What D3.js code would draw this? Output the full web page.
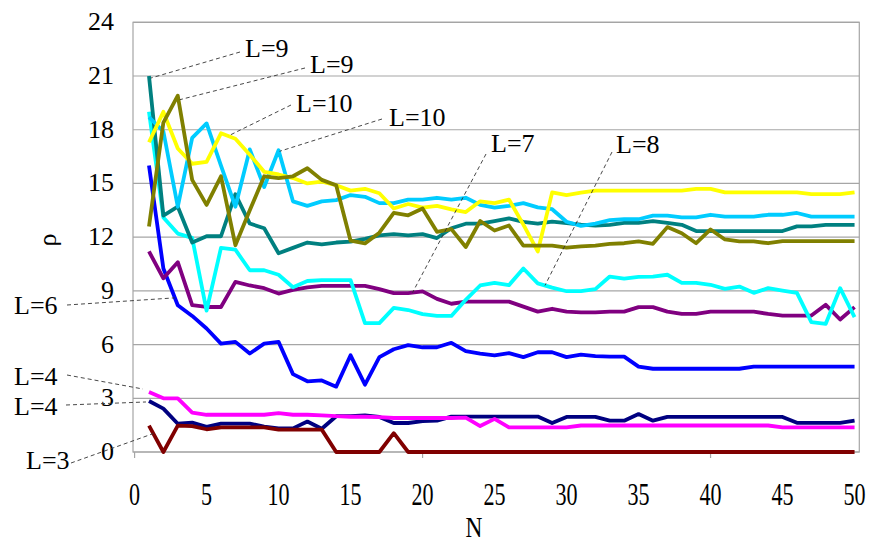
<!DOCTYPE html>
<html>
<head>
<meta charset="utf-8">
<script src="https://cdn.jsdelivr.net/npm/d3@7"></script>
<style>
  body { margin: 0; background: #fff; }
  svg { display: block; }
  svg text {
    font-family: "Liberation Serif", "Times New Roman", Times, "Nimbus Roman", "Nimbus Roman No9 L",
                 "DejaVu Serif", "Noto Serif", FreeSerif, Georgia, serif !important;
  }
</style>
</head>
<body>
<svg id="chart" width="871" height="543"></svg>
<script>
// N = 1..50
const nValues = d3.range(1, 51);

const rhoYellow = [17.3, 19.0, 16.95, 16.1, 16.2, 17.8, 17.5, 16.6, 15.65, 15.5,
  15.3, 15.0, 15.1, 14.9, 14.6, 14.7, 14.45, 13.6, 13.85, 13.65,
  13.75, 13.55, 13.4, 14.0, 13.9, 14.1, 12.7, 11.2, 14.5, 14.35,
  14.48, 14.6, 14.6, 14.6, 14.6, 14.6, 14.6, 14.6, 14.7, 14.7,
  14.5, 14.5, 14.5, 14.5, 14.5, 14.5, 14.4, 14.4, 14.4, 14.5];

const rhoSky = [18.7, 17.9, 13.7, 17.55, 18.35, 16.0, 13.7, 16.9, 14.8, 16.85,
  14.0, 13.75, 14.0, 14.07, 14.35, 14.25, 13.9, 13.9, 14.1, 14.1,
  14.2, 14.1, 14.2, 13.8, 13.65, 13.75, 13.9, 13.66, 13.56, 12.86,
  12.63, 12.76, 12.95, 13.0, 13.0, 13.2, 13.2, 13.1, 13.1, 13.25,
  13.15, 13.15, 13.15, 13.25, 13.25, 13.35, 13.15, 13.15, 13.15, 13.15];

const rhoTeal = [21.0, 13.2, 13.7, 11.7, 12.05, 12.05, 14.4, 12.76, 12.5, 11.1,
  11.4, 11.7, 11.6, 11.7, 11.75, 11.9, 12.1, 12.17, 12.1, 12.17,
  11.95, 12.5, 12.75, 12.75, 12.9, 13.05, 12.85, 12.75, 12.87, 12.78,
  12.7, 12.65, 12.69, 12.8, 12.8, 12.89, 12.8, 12.69, 12.34, 12.34,
  12.34, 12.34, 12.34, 12.34, 12.34, 12.6, 12.6, 12.69, 12.69, 12.69];

const rhoOlive = [12.6, 18.4, 19.9, 15.2, 13.8, 15.4, 11.55, 13.5, 15.4, 15.3,
  15.4, 15.85, 15.2, 14.9, 11.8, 11.65, 12.25, 13.35, 13.22, 13.6,
  12.3, 12.45, 11.45, 12.9, 12.37, 12.65, 11.53, 11.53, 11.53, 11.42,
  11.48, 11.53, 11.63, 11.66, 11.76, 11.63, 12.56, 12.22, 11.66, 12.43,
  11.87, 11.76, 11.76, 11.66, 11.78, 11.78, 11.78, 11.78, 11.78, 11.78];

const rhoCyan = [19.0, 13.1, 12.2, 11.96, 7.9, 11.4, 11.3, 10.15, 10.15, 9.9,
  9.2, 9.55, 9.6, 9.6, 9.6, 7.2, 7.2, 8.05, 7.93, 7.7,
  7.6, 7.6, 8.5, 9.3, 9.45, 9.32, 10.25, 9.42, 9.18, 8.98,
  8.98, 9.1, 9.8, 9.68, 9.78, 9.8, 9.9, 9.45, 9.45, 9.34,
  9.11, 9.24, 8.89, 9.15, 9.02, 8.89, 7.25, 7.16, 9.15, 7.53];

const rhoPurple = [11.2, 9.7, 10.6, 8.2, 8.1, 8.1, 9.5, 9.3, 9.15, 8.85,
  9.05, 9.2, 9.28, 9.28, 9.28, 9.28, 9.1, 8.87, 8.87, 8.97,
  8.55, 8.28, 8.4, 8.4, 8.4, 8.4, 8.12, 7.84, 8.0, 7.84,
  7.8, 7.8, 7.84, 7.84, 8.09, 8.09, 7.84, 7.71, 7.71, 7.84,
  7.84, 7.84, 7.84, 7.71, 7.62, 7.62, 7.62, 8.22, 7.4, 8.09];

const rhoBlue = [16.0, 10.25, 8.2, 7.6, 6.9, 6.05, 6.15, 5.5, 6.05, 6.15,
  4.35, 3.95, 4.0, 3.65, 5.4, 3.76, 5.3, 5.74, 5.97, 5.85,
  5.85, 6.1, 5.63, 5.5, 5.4, 5.52, 5.3, 5.57, 5.57, 5.3,
  5.44, 5.35, 5.33, 5.33, 4.77, 4.65, 4.65, 4.65, 4.65, 4.65,
  4.65, 4.65, 4.77, 4.77, 4.77, 4.77, 4.77, 4.77, 4.77, 4.77];

const rhoMagenta = [3.35, 3.0, 3.0, 2.2, 2.08, 2.08, 2.08, 2.08, 2.08, 2.17,
  2.08, 2.08, 2.05, 2.0, 1.97, 1.97, 1.95, 1.9, 1.9, 1.9,
  1.9, 1.9, 1.92, 1.45, 1.85, 1.38, 1.38, 1.38, 1.38, 1.38,
  1.48, 1.48, 1.48, 1.48, 1.48, 1.48, 1.48, 1.48, 1.48, 1.48,
  1.48, 1.48, 1.48, 1.48, 1.38, 1.38, 1.38, 1.38, 1.38, 1.38];

const rhoNavy = [2.85, 2.42, 1.58, 1.64, 1.4, 1.58, 1.58, 1.58, 1.42, 1.32,
  1.32, 1.7, 1.3, 2.0, 2.0, 2.05, 1.96, 1.62, 1.62, 1.72,
  1.75, 1.98, 1.98, 1.98, 1.98, 1.98, 1.98, 1.98, 1.62, 1.96,
  1.96, 1.96, 1.75, 1.75, 2.12, 1.75, 1.96, 1.96, 1.96, 1.96,
  1.96, 1.96, 1.96, 1.96, 1.96, 1.63, 1.63, 1.63, 1.63, 1.75];

const rhoMaroon = [1.47, 0, 1.47, 1.45, 1.27, 1.38, 1.38, 1.38, 1.38, 1.25,
  1.25, 1.25, 1.25, 0, 0, 0, 0, 1.05, 0, 0,
  0, 0, 0, 0, 0, 0, 0, 0, 0, 0,
  0, 0, 0, 0, 0, 0, 0, 0, 0, 0,
  0, 0, 0, 0, 0, 0, 0, 0, 0, 0];

const yTicks = [0, 3, 6, 9, 12, 15, 18, 21, 24];
const xTickLabels = [0, 5, 10, 15, 20, 25, 30, 35, 40, 45, 50];
const xTickMarks = [0, 20, 40];

// series in drawing order
const series = [
  { values: rhoBlue,    color: "#0000FF" },
  { values: rhoPurple,  color: "#800080" },
  { values: rhoCyan,    color: "#00FFFF" },
  { values: rhoTeal,    color: "#008080" },
  { values: rhoSky,     color: "#00CCFF" },
  { values: rhoYellow,  color: "#FFFF00" },
  { values: rhoOlive,   color: "#808000" },
  { values: rhoNavy,    color: "#000080" },
  { values: rhoMagenta, color: "#FF00FF" },
  { values: rhoMaroon,  color: "#800000" }
];

// callouts: which curve and which N the leader points at
const callouts = [
  { text: "L=9",  values: rhoTeal,    n: 1 },
  { text: "L=9",  values: rhoOlive,   n: 3 },
  { text: "L=10", values: rhoYellow,  n: 6.5 },
  { text: "L=10", values: rhoSky,     n: 10 },
  { text: "L=7",  values: rhoPurple,  n: 19.3 },
  { text: "L=8",  values: rhoCyan,    n: 28.5 },
  { text: "L=6",  values: rhoBlue,    n: 2.8 },
  { text: "L=4",  values: rhoMagenta, n: 1 },
  { text: "L=4",  values: rhoNavy,    n: 1 },
  { text: "L=3",  values: rhoMaroon,  n: 1.3 }
];
// label placement (text anchor point and leader start), same order as callouts
const calloutLayout = [
  { tx: 245, ty: 57,  lx: 240,  ly: 52,  dx: 2,  dy: 2 },
  { tx: 310, ty: 73,  lx: 305,  ly: 68,  dx: 2,  dy: 4 },
  { tx: 296, ty: 112, lx: 291,  ly: 105, dx: 0,  dy: 0 },
  { tx: 389, ty: 126, lx: 382,  ly: 119, dx: 1,  dy: 1 },
  { tx: 491, ty: 152, lx: 486,  ly: 154, dx: 0,  dy: 0 },
  { tx: 616, ty: 153, lx: 612,  ly: 152, dx: 0,  dy: 0 },
  { tx: 14,  ty: 314, lx: 67,   ly: 305, dx: 0,  dy: 0 },
  { tx: 14,  ty: 385, lx: 67,   ly: 375, dx: -6, dy: -3 },
  { tx: 14,  ty: 415, lx: 66,   ly: 405, dx: -3, dy: 1 },
  { tx: 26,  ty: 469, lx: 71,   ly: 463, dx: 0,  dy: 0 }
];

const svg = d3.select("#chart");
const plot = { left: 133, right: 859.3, top: 22.3, bottom: 452 };

const x = d3.scaleLinear().domain([-0.11, 50.33]).range([plot.left, plot.right]);
const y = d3.scaleLinear().domain([0, 24]).range([plot.bottom, plot.top]);

// horizontal gridlines
svg.append("g")
  .selectAll("line")
  .data(yTicks)
  .join("line")
  .attr("x1", plot.left).attr("x2", plot.right)
  .attr("y1", d => y(d)).attr("y2", d => y(d))
  .attr("stroke", "#A6A6A6").attr("stroke-width", 1.2);

// plot frame
svg.append("rect")
  .attr("x", plot.left).attr("y", plot.top)
  .attr("width", plot.right - plot.left).attr("height", plot.bottom - plot.top)
  .attr("fill", "none").attr("stroke", "#A6A6A6").attr("stroke-width", 1.2);

// x tick marks
svg.append("g")
  .selectAll("line")
  .data(xTickMarks)
  .join("line")
  .attr("x1", d => x(d)).attr("x2", d => x(d))
  .attr("y1", plot.bottom).attr("y2", plot.bottom + 6)
  .attr("stroke", "#A6A6A6").attr("stroke-width", 1.2);

// y tick labels
svg.append("g")
  .selectAll("text")
  .data(yTicks)
  .join("text")
  .attr("x", 114)
  .attr("y", d => y(d) + 8)
  .attr("text-anchor", "end")
  .attr("font-size", 26)
  .text(d => d);

// x tick labels (drawn slightly condensed and tall)
svg.append("g")
  .selectAll("text")
  .data(xTickLabels)
  .join("text")
  .attr("transform", d => `translate(${x(d)},505) scale(0.85,1.2)`)
  .attr("text-anchor", "middle")
  .attr("font-size", 26)
  .text(d => d);

// axis titles
svg.append("text")
  .attr("transform", "translate(474,537) scale(0.9,1.15)")
  .attr("text-anchor", "middle")
  .attr("font-size", 26)
  .text("N");

svg.append("text")
  .attr("transform", "translate(56,240) rotate(-90)")
  .attr("text-anchor", "middle")
  .attr("font-size", 26)
  .text("ρ");

// data lines
const line = d3.line()
  .x((d, i) => x(nValues[i]))
  .y(d => y(d));

svg.append("g")
  .selectAll("path")
  .data(series)
  .join("path")
  .attr("d", d => line(d.values))
  .attr("fill", "none")
  .attr("stroke", d => d.color)
  .attr("stroke-width", 3.8)
  .attr("stroke-linejoin", "round");

// value of a curve at a (possibly fractional) N
function valueAt(values, n) {
  const i = Math.floor(n) - 1;
  const t = n - Math.floor(n);
  if (t === 0) return values[i];
  return values[i] + (values[i + 1] - values[i]) * t;
}

// callout leaders and labels
const cg = svg.append("g");
callouts.forEach((c, i) => {
  const L = calloutLayout[i];
  const px = x(c.n) + L.dx;
  const py = y(valueAt(c.values, c.n)) + L.dy;
  cg.append("line")
    .attr("x1", L.lx).attr("y1", L.ly)
    .attr("x2", px).attr("y2", py)
    .attr("stroke", "#333").attr("stroke-width", 0.9)
    .attr("stroke-dasharray", "4,3");
  cg.append("text")
    .attr("x", L.tx).attr("y", L.ty)
    .attr("font-size", 26)
    .text(c.text);
});
</script>
</body>
</html>
